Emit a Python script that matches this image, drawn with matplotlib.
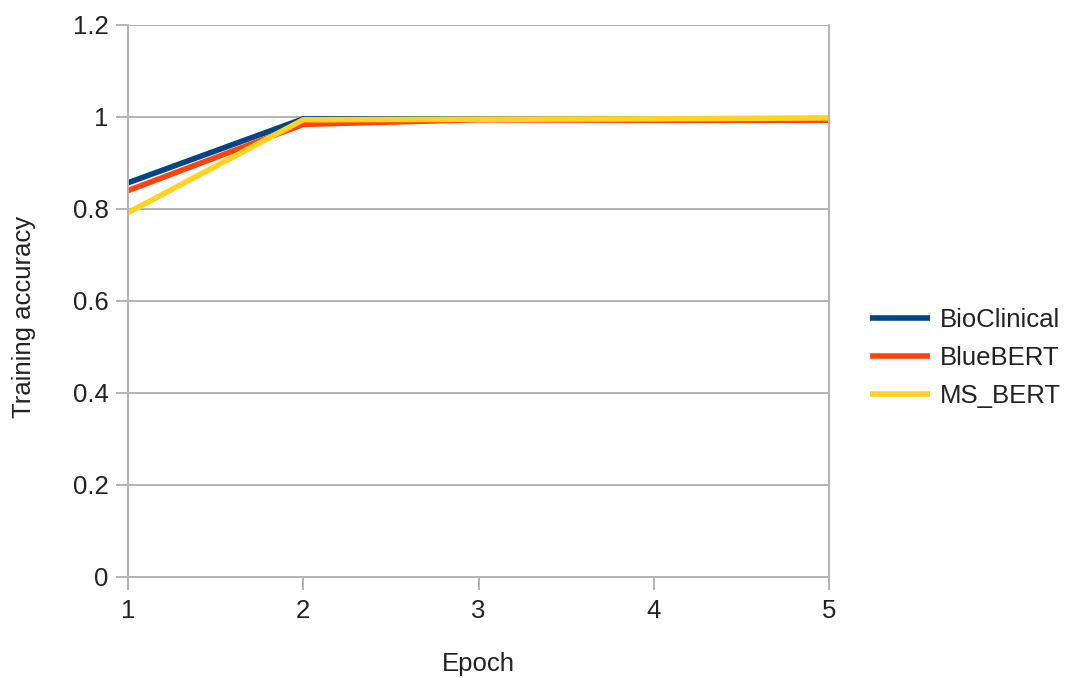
import matplotlib
matplotlib.use("Agg")
import matplotlib.pyplot as plt

plt.rcParams['font.family'] = ['Liberation Sans', 'DejaVu Sans']

epochs = [1, 2, 3, 4, 5]
bioclinical = [0.857, 0.996, 0.995, 0.995, 0.995]
bluebert = [0.840, 0.984, 0.994, 0.993, 0.993]
ms_bert = [0.792, 0.994, 0.995, 0.996, 0.998]

series = [
    ("BioClinical", bioclinical, "#004586"),
    ("BlueBERT", bluebert, "#ff420e"),
    ("MS_BERT", ms_bert, "#ffd320"),
]

W, H = 1075, 678
fig = plt.figure(figsize=(W / 100, H / 100), dpi=100)
ax = fig.add_axes([128 / W, 1 - 577 / H, (829 - 128) / W, (577 - 25) / H])

for name, vals, color in series:
    ax.plot(epochs, vals, color=color, lw=4.0, label=name, solid_capstyle='butt')

ax.set_xlim(1, 5)
ax.set_ylim(0, 1.2)
ax.set_xticks(epochs)
ax.set_yticks([0, 0.2, 0.4, 0.6, 0.8, 1, 1.2])
ax.set_yticklabels(["0", "0.2", "0.4", "0.6", "0.8", "1", "1.2"])
ax.yaxis.grid(True, color="#b3b3b3", lw=1.4)
ax.set_axisbelow(True)
for s in ["left", "bottom", "right"]:
    ax.spines[s].set_color("#b3b3b3")
    ax.spines[s].set_linewidth(1.4)
ax.spines["top"].set_visible(False)
ax.tick_params(axis="both", colors="#b3b3b3", labelcolor="#222222",
               labelsize=18.5, length=9, width=1.4, direction="out")
ax.tick_params(axis="y", pad=5)
ax.tick_params(axis="x", pad=7)

ax.set_xlabel("Epoch", fontsize=18.5, color="#222222")
ax.xaxis.set_label_coords(0.5, 1 - (664 - 25) / (577 - 25) , transform=ax.transAxes)
ax.xaxis.label.set_va("center")
ax.set_ylabel("Training accuracy", fontsize=18.5, color="#222222")
ax.yaxis.set_label_coords((24 - 128) / (829 - 128), (577 - 317) / (577 - 25), transform=ax.transAxes)
ax.yaxis.label.set_va("center")

ax.legend(loc="center left", bbox_to_anchor=(870 / W, 1 - 358 / H),
          bbox_transform=fig.transFigure, frameon=False, borderpad=0,
          borderaxespad=0, fontsize=18.5, handlelength=2.35,
          handletextpad=0.35, labelspacing=0.55, labelcolor="#222222")

fig.savefig("out.png", dpi=100)
